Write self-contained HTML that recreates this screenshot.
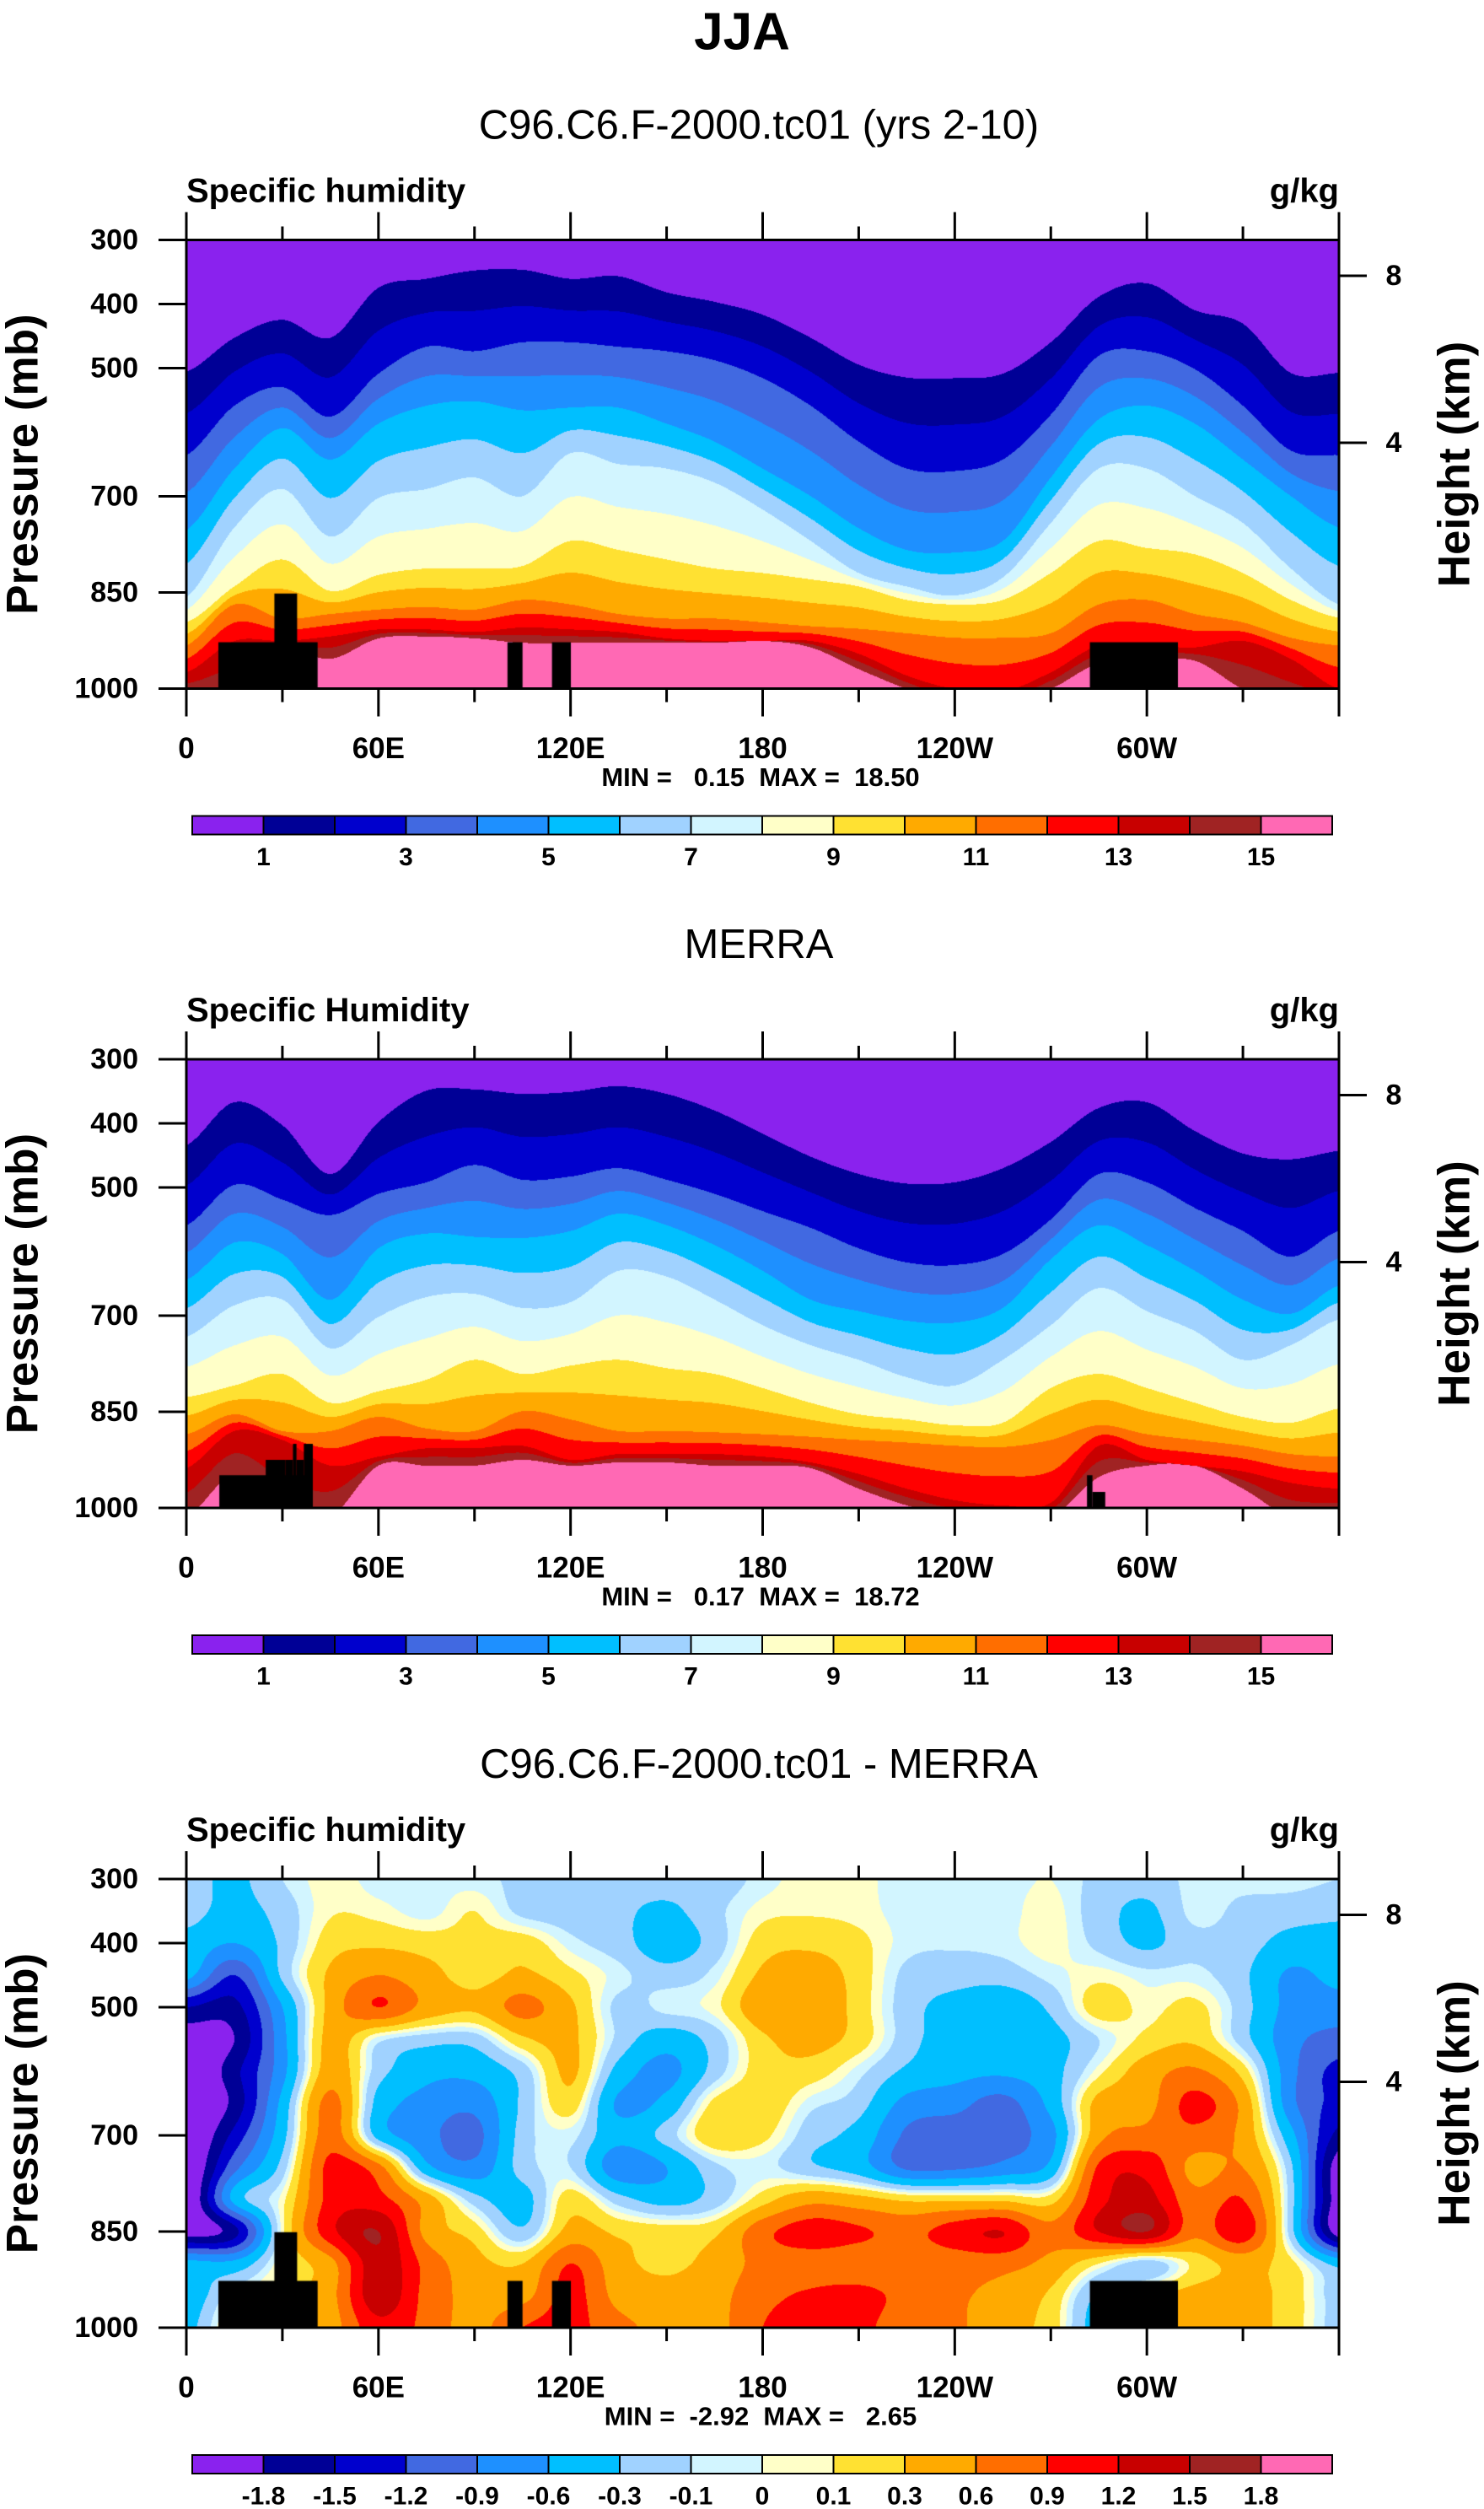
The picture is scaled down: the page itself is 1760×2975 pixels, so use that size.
<!DOCTYPE html>
<html><head><meta charset="utf-8"><title>JJA Specific humidity</title>
<style>
html,body{margin:0;padding:0;background:#fff;}
#root{position:relative;width:1760px;height:2975px;overflow:hidden;background:#fff;font-family:"Liberation Sans",Arial,sans-serif;}
canvas{position:absolute;}
svg{position:absolute;left:0;top:0;}
</style></head>
<body>
<div id="root">
<canvas id="c0" width="1367" height="532" style="left:221px;top:284.5px"></canvas>
<canvas id="c1" width="1367" height="532" style="left:221px;top:1256px"></canvas>
<canvas id="c2" width="1367" height="532" style="left:221px;top:2228px"></canvas>
<svg id="ov" width="1760" height="2975"></svg>
</div>
<script>
// ---------- data ----------
const LON = [0,15,30,45,60,75,90,105,120,135,150,165,180,195,210,225,240,255,270,285,300,315,330,345,360];
const SHOWN_Q = [1,3,5,7,9,11,13,15];
// model: pressure (mb) of each contour level by longitude
const modelQ1  = [505,452,424,452,374,360,347,346,360,356,381,396,416,452,494,514,515,508,459,388,367,409,430,507,507];
const modelQ3  = [635,558,529,575,508,466,473,459,459,466,473,487,515,558,614,656,660,642,572,480,473,501,558,628,635];
const modelQ5  = [752,656,593,642,586,558,551,565,561,561,586,614,656,699,749,783,787,769,670,579,558,586,642,699,748];
const modelQ7  = [857,748,688,762,702,688,670,699,632,649,656,678,720,769,819,840,854,826,741,656,656,699,741,812,868];
const modelQ9  = [896,840,798,847,822,812,812,808,769,783,798,812,819,829,840,861,868,861,819,769,780,790,819,861,889];
const modelQ11 = [932,868,890,883,876,872,876,861,868,883,890,890,896,902,906,913,920,920,913,868,861,883,896,920,932];
const modelQ13 = [974,925,925,918,907,907,911,904,907,911,921,925,925,925,945,979,1000,1004,974,932,932,935,925,953,1000];
const modelQ15 = [1009,1004,939,953,921,918,921,928,928,928,928,928,925,935,969,1000,1026,1026,1000,960,956,956,1000,1026,1026];
// MERRA
const merraQ1  = [434,367,403,479,398,349,347,354,351,342,354,380,416,452,479,494,492,470,429,376,367,412,447,456,443];
const merraQ3  = [559,496,519,543,510,492,465,488,483,470,488,510,537,563,595,617,621,604,550,479,492,532,568,608,568];
const merraQ5  = [644,586,604,675,595,572,577,579,568,541,559,590,630,675,693,708,711,688,612,559,590,630,675,697,653];
const merraQ7  = [733,684,675,751,702,671,666,688,679,630,639,675,715,746,769,796,809,769,715,657,693,724,769,746,706];
const merraQ9  = [827,809,791,836,818,800,769,791,778,769,782,791,813,836,854,862,871,867,813,791,813,836,858,867,845];
const merraQ11 = [885,854,880,880,858,876,880,849,862,880,880,882,885,889,894,898,903,905,894,871,885,894,903,916,920];
const merraQ13 = [938,880,894,934,920,907,907,903,925,916,916,916,920,929,947,970,988,996,992,903,925,934,943,961,970];
const merraQ15 = [1014,950,1014,1014,934,934,934,925,934,929,929,934,934,938,970,996,1014,1014,1014,952,934,934,970,1014,1014];
// difference grid (g/kg), rows by pressure
const DIFF_P = [300,350,400,450,500,550,600,650,700,750,800,850,900,950,1000];
const diff300  = [-0.2,-0.35,-0.1,0.05,-0.05,-0.05,-0.05,-0.15,-0.2,-0.2,-0.2,-0.2,-0.05,0.05,0.03,-0.05,-0.05,-0.05,0,-0.15,-0.2,-0.05,-0.05,-0.05,-0.1];
const diff350  = [-0.2,-0.4,-0.2,0.08,0.05,-0.05,0.1,-0.15,-0.2,-0.25,-0.35,-0.15,0.05,0.08,0.05,-0.05,-0.05,-0.05,0.05,-0.2,-0.35,-0.05,-0.15,-0.2,-0.25];
const diff400  = [-0.4,-0.6,-0.25,0.2,0.25,0.2,0.15,0.2,-0.05,-0.2,-0.45,-0.2,0.2,0.25,0.15,-0.05,-0.08,-0.05,0.05,-0.15,-0.35,-0.15,-0.2,-0.4,-0.4];
const diff450  = [-0.5,-1.2,-0.25,0.35,0.6,0.4,0.2,0.35,0.15,-0.05,-0.2,-0.05,0.35,0.45,0.2,-0.15,-0.2,-0.2,-0.05,0.05,-0.05,-0.05,-0.25,-0.65,-0.5];
const diff500  = [-1.5,-1.6,-0.6,0.4,0.9,0.5,0.35,0.7,0.35,-0.15,-0.05,0.05,0.5,0.55,0.2,-0.2,-0.4,-0.5,-0.25,0.2,0.05,0.15,-0.2,-0.7,-0.75];
const diff550  = [-2.0,-1.8,-0.7,0.4,-0.05,-0.2,-0.2,0.25,0.35,-0.15,-0.45,-0.2,0.25,0.4,0.2,-0.2,-0.45,-0.5,-0.4,-0.1,0.15,0.25,-0.2,-0.8,-1.0];
const diff600  = [-2.2,-1.6,-0.7,0.45,-0.2,-0.5,-0.5,-0.2,0.35,-0.4,-0.7,-0.2,0.2,0.2,-0.05,-0.35,-0.5,-0.55,-0.4,0.05,0.45,0.65,0.2,-0.8,-1.3];
const diff650  = [-2.2,-1.7,-0.5,0.7,-0.4,-0.7,-0.8,-0.25,0.2,-0.65,-0.5,0.15,0.25,-0.05,-0.2,-0.7,-0.8,-1.0,-0.5,0.4,0.5,1.0,0.5,-0.8,-1.3];
const diff700  = [-2.2,-1.4,-0.4,0.75,-0.4,-0.8,-1.0,-0.2,-0.05,-0.5,-0.2,0.25,0.15,-0.2,-0.4,-0.95,-1.05,-1.0,-0.7,0.5,0.7,0.8,0.5,-0.5,-1.6];
const diff750  = [-2.2,-1.0,-0.2,1.0,0.7,-0.5,-0.8,-0.2,-0.1,-0.8,-0.6,-0.15,-0.05,-0.25,-0.45,-0.95,-0.95,-0.8,-0.5,0.95,1.1,0.5,0.6,-0.25,-2.0];
const diff800  = [-2.2,-0.5,0.05,1.0,1.0,0.45,-0.2,-0.4,0.2,-0.2,-0.4,-0.2,0.2,0.5,0.4,0.25,0.25,0.25,0.2,1.1,1.3,0.7,0.9,-0.2,-2.0];
const diff850  = [-2.0,-1.6,0.05,1.1,1.5,0.5,0.2,-0.25,0.4,0.25,0.2,0.25,0.8,1.05,0.95,0.8,1.05,1.2,0.7,1.2,1.5,0.7,1.1,-0.2,-2.0];
const diff900  = [-0.5,-0.5,0.1,0.5,1.4,0.8,0.4,0.3,0.9,0.4,0.25,0.4,0.7,0.75,0.7,0.65,0.7,0.7,0.5,0.1,-0.2,0.15,0.4,0.15,-0.4];
const diff950  = [-0.5,0,0.2,0.5,1.4,0.8,0.5,0.5,1.0,0.5,0.4,0.5,0.8,0.95,1.0,0.8,0.65,0.5,0.25,-0.3,0.2,0.4,0.4,0.2,-0.2];
const diff1000 = [-0.4,0.2,0.2,0.45,1.1,0.8,0.5,0.9,1.0,0.7,0.5,0.5,0.9,1.1,1.0,0.7,0.65,0.4,0.2,-0.4,0.2,0.4,0.4,0.2,-0.2];
// terrain masks: [lonStart, lonEnd, topPressure]
const modelTerrain = [[10,41,927],[27.5,34.6,851],[100.3,105,927],[114.2,120.1,927],[282.2,309.7,927]];
const merraTerrain = [[10.3,39.5,949],[24.8,31,925],[31,33.3,925],[33.3,34.4,900],[34.4,36.7,925],[36.7,39.5,900],[281.3,283,949],[283,287,975]];
// levels / labels
const SEQ_LEVELS = [1,2,3,4,5,6,7,8,9,10,11,12,13,14,15];
const SEQ_LABELS = ["1","3","5","7","9","11","13","15"];
const DIFF_LEVELS = [-1.8,-1.5,-1.2,-0.9,-0.6,-0.3,-0.1,0,0.1,0.3,0.6,0.9,1.2,1.5,1.8];
const DIFF_LABELS = ["-1.8","-1.5","-1.2","-0.9","-0.6","-0.3","-0.1","0","0.1","0.3","0.6","0.9","1.2","1.5","1.8"];
const X_TICK_LONS = [0,60,120,180,240,300];
const X_TICK_LABELS = ["0","60E","120E","180","120W","60W"];
const P_TICKS = [300,400,500,700,850,1000];
const H_TICKS = [8,4];
const PANEL_TITLES = ["C96.C6.F-2000.tc01 (yrs 2-10)","MERRA","C96.C6.F-2000.tc01 - MERRA"];
const LEFT_STRINGS = ["Specific humidity","Specific Humidity","Specific humidity"];
const MINMAX = ["MIN =   0.15  MAX =  18.50","MIN =   0.17  MAX =  18.72","MIN =  -2.92  MAX =   2.65"];
const COLORS = ["#8a22ee","#000096","#0000cd","#4169e1","#1e90ff","#00bfff","#a0d2ff","#d2f5ff","#ffffc8","#ffe132","#ffaa00","#ff6e00","#ff0000","#c80000","#a02323","#ff69b4"];

// ---------- geometry ----------
const PL = 221, PW = 1367, PH = 532;
const TOPS = [284.5, 1256, 2228];
function xOf(lon){ return PL + lon/360*PW; }
function yOfP(T,p){ return T + (p-300)/700*PH; }
function pOfH(km){ return 1013.25*Math.pow(1-2.25577e-5*km*1000,5.25588); }
function rgb(h){ return [parseInt(h.substr(1,2),16),parseInt(h.substr(3,2),16),parseInt(h.substr(5,2),16)]; }
const RGB = COLORS.map(rgb);
function classify(v, levels){ let k=0; for(const l of levels){ if(v>=l) k++; } return k; }
// Catmull-Rom interpolation of array a at fractional index t
function cr(a,t){
  const n=a.length; let i=Math.min(Math.floor(t),n-2); const f=t-i;
  const p0=a[Math.max(i-1,0)],p1=a[i],p2=a[i+1],p3=a[Math.min(i+2,n-1)];
  return 0.5*((2*p1)+(-p0+p2)*f+(2*p0-5*p1+4*p2-p3)*f*f+(-p0+3*p1-3*p2+p3)*f*f*f);
}

function seqField(arrs){
  return function(lon,p,cache){
    const pp = cache;
    const ps=[pp[0]-150].concat(pp,[pp[pp.length-1]+70]);
    const qs=[0].concat(SHOWN_Q,[18]);
    if(p<=ps[0]) return 0;
    for(let k=1;k<ps.length;k++){ if(p<=ps[k]) return qs[k-1]+(qs[k]-qs[k-1])*(p-ps[k-1])/(ps[k]-ps[k-1]); }
    return 18;
  };
}
function seqColumn(arrs, lon){
  const t=lon/15;
  const pp=arrs.map(a=>cr(a,t));
  for(let k=1;k<pp.length;k++) if(pp[k]<pp[k-1]+0.5) pp[k]=pp[k-1]+0.5;
  return pp;
}
const DIFF_ROWS=[diff300,diff350,diff400,diff450,diff500,diff550,diff600,diff650,diff700,diff750,diff800,diff850,diff900,diff950,diff1000];
function diffColumn(lon){ const t=lon/15; return DIFF_ROWS.map(r=>cr(r,t)); }
function diffField(lon,p,col){ return cr(col,(p-300)/50); }

function render(id, fn, colFn, levels, terrain){
  const cv=document.getElementById(id), ctx=cv.getContext('2d');
  const img=ctx.createImageData(PW,PH);
  for(let x=0;x<PW;x++){
    const lon=(x+0.5)/PW*360;
    const col=colFn(lon);
    for(let y=0;y<PH;y++){
      const p=300+(y+0.5)/PH*700;
      const c=RGB[classify(fn(lon,p,col),levels)];
      const o=(y*PW+x)*4; img.data[o]=c[0];img.data[o+1]=c[1];img.data[o+2]=c[2];img.data[o+3]=255;
    }
  }
  ctx.putImageData(img,0,0);
  ctx.fillStyle="#000";
  for(const t of terrain){
    const x0=t[0]/360*PW, x1=t[1]/360*PW, y0=(t[2]-300)/700*PH;
    ctx.fillRect(x0,y0,x1-x0,PH-y0);
  }
}
const modelArrs=[modelQ1,modelQ3,modelQ5,modelQ7,modelQ9,modelQ11,modelQ13,modelQ15];
const merraArrs=[merraQ1,merraQ3,merraQ5,merraQ7,merraQ9,merraQ11,merraQ13,merraQ15];
render('c0', seqField(modelArrs), lon=>seqColumn(modelArrs,lon), SEQ_LEVELS, modelTerrain);
render('c1', seqField(merraArrs), lon=>seqColumn(merraArrs,lon), SEQ_LEVELS, merraTerrain);
render('c2', diffField, diffColumn, DIFF_LEVELS, modelTerrain);

// ---------- overlay ----------
const NS="http://www.w3.org/2000/svg";
const ov=document.getElementById('ov');
function mk(tag, attrs, parent){
  const e=document.createElementNS(NS,tag);
  for(const k in attrs) e.setAttribute(k,attrs[k]);
  (parent||ov).appendChild(e); return e;
}
function txt(s,x,y,size,weight,anchor,parent){
  const t=mk('text',{x:x,y:y,'font-size':size,'font-weight':weight,'text-anchor':anchor,'dominant-baseline':'central','font-family':'Liberation Sans, Arial, sans-serif',fill:'#000'},parent);
  t.textContent=s; return t;
}
const mainTitle=txt("JJA",880,38,62,'bold','middle');



TOPS.forEach((T,pi)=>{
  const B=T+PH;
  const g=mk('g',{});
  
  
  const title=txt(PANEL_TITLES[pi],900,T-136,49,'normal','middle',g);
  
  
  const ls=mk('text',{x:PL,y:T-45,'font-size':40,'font-weight':'bold','font-family':'Liberation Sans, Arial, sans-serif'},g);
  ls.textContent=LEFT_STRINGS[pi];
  
  
  const rs=mk('text',{x:PL+PW,y:T-45,'font-size':40,'font-weight':'bold','text-anchor':'end','font-family':'Liberation Sans, Arial, sans-serif'},g);
  rs.textContent="g/kg";
  
  
  const fr=mk('rect',{x:PL,y:T,width:PW,height:PH,fill:'none',stroke:'#000','stroke-width':3},g);
  
  
  for(let lon=0;lon<=360;lon+=30){
    const major=(lon%60===0), L=major?33:16, x=xOf(lon);
    const t1=mk('line',{x1:x,y1:T,x2:x,y2:T-L,stroke:'#000','stroke-width':3},g);
    
    
    const t2=mk('line',{x1:x,y1:B,x2:x,y2:B+L,stroke:'#000','stroke-width':3},g);
    
    
  }
  X_TICK_LONS.forEach((lon,i)=>{
    const l=txt(X_TICK_LABELS[i],xOf(lon),B+71,35,'bold','middle',g);
    
    
  });
  P_TICKS.forEach(p=>{
    const y=yOfP(T,p);
    const tl=mk('line',{x1:PL-33,y1:y,x2:PL,y2:y,stroke:'#000','stroke-width':3},g);
    
    
    const l=txt(String(p),164,y,34,'bold','end',g);
    
    
  });
  H_TICKS.forEach(h=>{
    const y=yOfP(T,pOfH(h));
    const tl=mk('line',{x1:PL+PW,y1:y,x2:PL+PW+33,y2:y,stroke:'#000','stroke-width':3},g);
    
    
    const l=txt(String(h),1653,y,34,'bold','middle',g);
    
    
  });
  const yt=txt("Pressure (mb)",0,0,53,'bold','middle',g);
  yt.setAttribute('transform','translate(27,'+(T+266)+') rotate(-90)');
  
  
  const ht=txt("Height (km)",0,0,53,'bold','middle',g);
  ht.setAttribute('transform','translate(1725,'+(T+266)+') rotate(-90)');
  
  
  const mm=txt(MINMAX[pi],902,B+105,31,'bold','middle',g);
  mm.style.whiteSpace='pre';
  
  
  const cb=mk('g',{},g);
  
  
  const bw=(1580-228)/16, cy=B+151, ch=22;
  COLORS.forEach((c,i)=>{
    const r=mk('rect',{x:228+i*bw,y:cy,width:bw,height:ch,fill:c,stroke:'#000','stroke-width':2},cb);
    
    
  });
  if(pi<2){
    SEQ_LABELS.forEach(s=>{
      const l=txt(s,228+Number(s)*bw,B+200,30,'bold','middle',cb);
      
      
    });
  } else {
    DIFF_LABELS.forEach((s,i)=>{
      const l=txt(s,228+(i+1)*bw,B+200,30,'bold','middle',cb);
      
      
    });
  }
});
</script>
</body></html>
